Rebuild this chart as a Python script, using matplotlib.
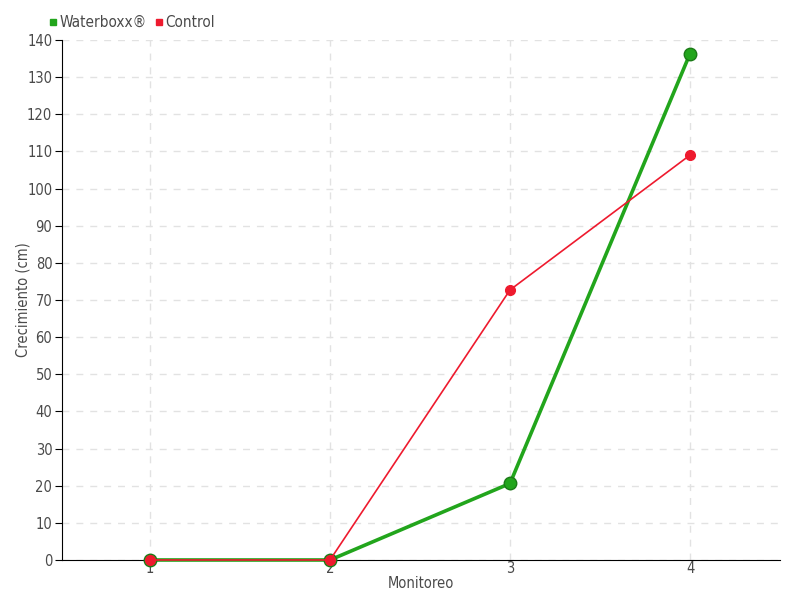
import matplotlib
matplotlib.use("Agg")
import matplotlib.pyplot as plt
from matplotlib.lines import Line2D

monitoreo = [1, 2, 3, 4]
waterboxx = [0, 0, 20.6, 136.3]
control = [0, 0, 72.7, 109.0]
yticks = list(range(0, 141, 10))

plt.rcParams['font.family'] = ['DejaVu Sans']
plt.rcParams['font.stretch'] = 'condensed'
tc = '#4a4a4a'

fig = plt.figure(figsize=(8, 6), dpi=100)
ax = fig.add_axes([0.0775, 0.0667, 0.8975, 0.8667])

green = "#22a51c"
red = "#ee1a2e"
ax.plot(monitoreo, waterboxx, color=green, lw=2.6, marker='o', ms=9,
        mfc=green, mec="#1b7a17", mew=1, label="Waterboxx®", zorder=3, clip_on=False)
ax.plot(monitoreo, control, color=red, lw=1.2, marker='o', ms=7,
        mfc=red, mec=red, label="Control", zorder=4, clip_on=False)

ax.set_xlim(0.511, 4.5)
ax.set_ylim(0, 140)
ax.set_yticks(yticks)
ax.set_xticks(monitoreo)
ax.grid(True, color="#e2e2e2", ls=(0, (5, 5)), lw=1)
ax.set_axisbelow(True)
for s in ['top', 'right']:
    ax.spines[s].set_visible(False)
ax.spines['left'].set_color('black')
ax.spines['bottom'].set_color('black')
ax.spines['left'].set_zorder(1)
ax.spines['bottom'].set_zorder(1)
ax.tick_params(axis='y', length=5, color='black', labelsize=10.5, labelcolor=tc, pad=2)
ax.tick_params(axis='x', length=0, labelsize=10.5, labelcolor=tc, pad=1)
for lab in ax.get_xticklabels() + ax.get_yticklabels():
    lab.set_fontstretch('condensed')
ax.set_xlabel("Monitoreo", fontsize=10.5, color=tc, labelpad=0, fontstretch='condensed')
ax.set_ylabel("Crecimiento (cm)", fontsize=10.5, color=tc, fontstretch='condensed')
ax.yaxis.set_label_coords(-0.044, 0.5)

handles = [Line2D([], [], ls='none', marker='s', ms=5, color=green),
           Line2D([], [], ls='none', marker='s', ms=5, color=red)]
leg = fig.legend(handles, ["Waterboxx®", "Control"], loc='upper left',
                 bbox_to_anchor=(0.054, 0.985), ncol=2, frameon=False,
                 fontsize=11, handlelength=0.5, handletextpad=0.2,
                 columnspacing=0.5, borderaxespad=0)
for t in leg.get_texts():
    t.set_color(tc)
    t.set_fontstretch('condensed')

fig.savefig("out.png", dpi=100)
